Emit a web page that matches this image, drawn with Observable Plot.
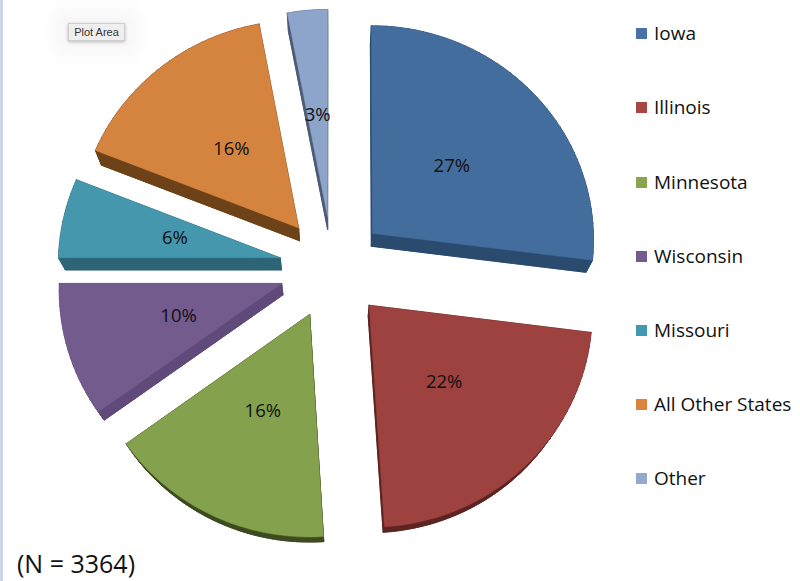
<!DOCTYPE html>
<html>
<head>
<meta charset="utf-8">
<script src="https://cdn.jsdelivr.net/npm/d3@7"></script>
<script src="https://cdn.jsdelivr.net/npm/@observablehq/plot@0.6"></script>
<style>
  html, body { margin: 0; padding: 0; background: #fff; }
  #wrap { position: relative; width: 800px; height: 581px; overflow: hidden; background: #fff; }
  #chart { position: absolute; left: 0; top: 0; }
  #strip { position: absolute; left: 0; top: 0; width: 3px; height: 581px; background: #cbd6e8; }
  #legend { position: absolute; left: 636px; top: 0; font-family: "Open Sans", sans-serif; font-size: 19px; color: #111; }
  .item { position: absolute; left: 0; height: 30px; display: flex; align-items: center; white-space: nowrap; }
  .sw { width: 11px; height: 11px; margin-right: 7px; flex: none; }
  #caption { position: absolute; left: 17px; top: 551px; font-family: "Open Sans", sans-serif; font-size: 25px; line-height: 25px; color: #111; }
  #tip { position: absolute; left: 68px; top: 23px; width: 57px; height: 18px; box-sizing: border-box; background: #efefef; border: 1px solid #cfcfcf;
         font-family: "Liberation Sans", Arial, sans-serif; font-size: 11px; line-height: 16px; text-align: center; color: #333;
         box-shadow: 0 1px 3px rgba(0,0,0,0.25), 0 0 18px 14px rgba(0,0,0,0.035); }
</style>
</head>
<body>
<div id="wrap">
  <div id="strip"></div>
  <div id="chart"></div>
  <div id="tip">Plot Area</div>
  <div id="legend"></div>
  <div id="caption"></div>
</div>
<script>
// ---- data ----
const categories = ["Iowa", "Illinois", "Minnesota", "Wisconsin", "Missouri", "All Other States", "Other"];
const shares = [27, 22, 16, 10, 6, 16, 3];
const labels = ["27%", "22%", "16%", "10%", "6%", "16%", "3%"];
const caption = "(N = 3364)";

// ---- style ----
const topColors  = ["#436d9c", "#9e423f", "#84a14d", "#735b8e", "#4597ad", "#d5843f", "#8da4cb"];
const sideColors = ["#2a4a6e", "#5c2423", "#3e4a21", "#5f4a7a", "#2d6577", "#6e4218", "#4c5b75"];
const legendColors = ["#4a72a8", "#a84644", "#89a54e", "#735a90", "#4298af", "#da843d", "#94a9cf"];

const K = 0.025, SY = 0.967, EXPLODE = 0.24, T = 0.025, VY = -2.13, LABEL_R = 0.485;
function proj(u, v) { const f = 1 / (1 + K * v); return [u * f, v * f * SY]; }

const topRows = [], sideRows = [], labelRows = [];
let acc = 0;
const total = d3.sum(shares);
categories.forEach((cat, i) => {
  const a0 = acc / total * 2 * Math.PI;
  acc += shares[i];
  const a1 = acc / total * 2 * Math.PI;
  const m = (a0 + a1) / 2;
  const ox = EXPLODE * Math.sin(m), oy = EXPLODE * Math.cos(m);
  const pts = [proj(ox, oy)];
  const n = Math.max(4, Math.ceil((a1 - a0) / (Math.PI / 90)));
  for (let j = 0; j <= n; j++) {
    const a = a0 + (a1 - a0) * j / n;
    pts.push(proj(ox + Math.sin(a), oy + Math.cos(a)));
  }
  pts.push(pts[0]);
  const bot = pts.map(([x, y]) => [x + T * (0 - x), y + T * (VY - y)]);
  bot.forEach(([x, y]) => sideRows.push({id: `b${i}`, x, y, fill: sideColors[i]}));
  for (let j = 0; j < pts.length - 1; j++) {
    const q = [pts[j], pts[j + 1], bot[j + 1], bot[j], pts[j]];
    q.forEach(([x, y]) => sideRows.push({id: `q${i}-${j}`, x, y, fill: sideColors[i]}));
  }
  pts.forEach(([x, y]) => topRows.push({id: `t${i}`, x, y, fill: topColors[i]}));
  const [lx, ly] = proj((EXPLODE + LABEL_R) * Math.sin(m), (EXPLODE + LABEL_R) * Math.cos(m));
  labelRows.push({x: lx, y: ly, text: labels[i]});
});

const W = 620, H = 581, R = 222, CX = 332, CY = 267;
const chart = Plot.plot({
  width: W, height: H,
  marginLeft: 0, marginRight: 0, marginTop: 0, marginBottom: 0,
  x: {domain: [-CX / R, (W - CX) / R], axis: null},
  y: {domain: [-(H - CY) / R, CY / R], axis: null},
  color: {type: "identity"},
  style: {fontFamily: "Open Sans, sans-serif", background: "transparent"},
  marks: [
    Plot.line(sideRows, {x: "x", y: "y", z: "id", fill: "fill", stroke: "fill", strokeWidth: 0.8, curve: "linear"}),
    Plot.line(topRows, {x: "x", y: "y", z: "id", fill: "fill", stroke: "fill", strokeWidth: 0.4, curve: "linear"}),
    Plot.text(labelRows, {x: "x", y: "y", text: "text", fontSize: 18.5, fill: "#111"})
  ]
});
document.getElementById("chart").appendChild(chart);

// legend
const legend = document.getElementById("legend");
const legendY = [33, 107, 182, 256, 330, 404, 478];
categories.forEach((c, i) => {
  const it = document.createElement("div");
  it.className = "item";
  it.style.top = (legendY[i] - 15) + "px";
  it.innerHTML = `<span class="sw" style="background:${legendColors[i]}"></span><span>${c}</span>`;
  legend.appendChild(it);
});
document.getElementById("caption").textContent = caption;
</script>
</body>
</html>
